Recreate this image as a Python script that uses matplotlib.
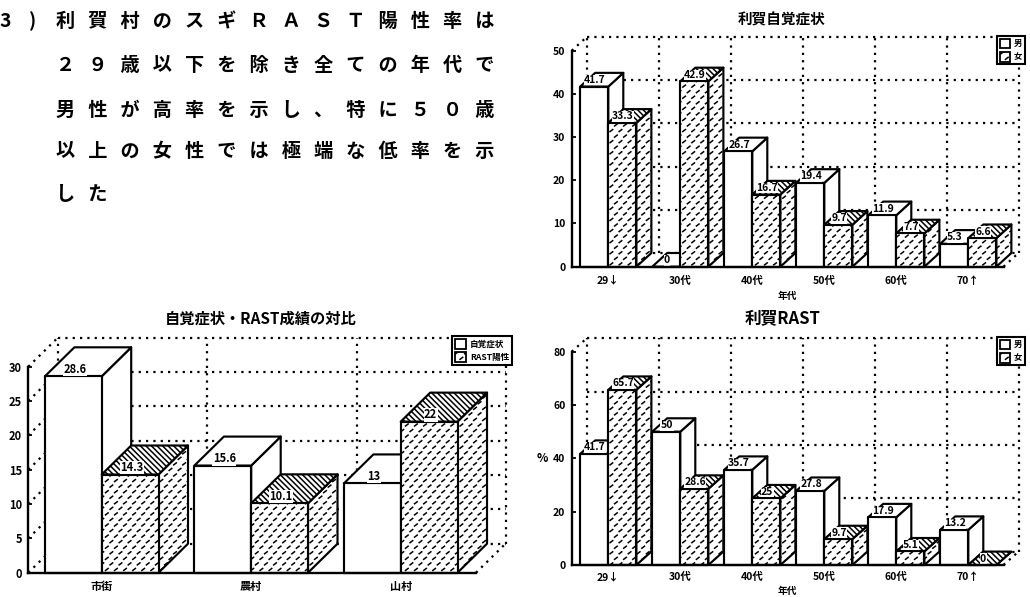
import numpy as np
import matplotlib
matplotlib.use("Agg")
import matplotlib.pyplot as plt
import matplotlib.hatch as mhatch
from matplotlib.patches import Polygon, Patch
from matplotlib.path import Path

# Data -------------------------------------------------------------------
age_groups = ["29↓", "30代", "40代", "50代", "60代", "70↑"]
symptom_male = [41.7, 0, 26.7, 19.4, 11.9, 5.3]
symptom_female = [33.3, 42.9, 16.7, 9.7, 7.7, 6.6]
rast_male = [41.7, 50, 35.7, 27.8, 17.9, 13.2]
rast_female = [65.7, 28.6, 25, 9.7, 5.1, 0]
areas = ["市街", "農村", "山村"]
area_symptom = [28.6, 15.6, 13]
area_rast = [14.3, 10.1, 22]
item_number = "3    )"
body_lines = ["利賀村のスギＲＡＳＴ陽性率は",
              "２９歳以下を除き全ての年代で",
              "男性が高率を示し、特に５０歳",
              "以上の女性では極端な低率を示",
              "した"]

CJK = ["Noto Sans CJK JP", "DejaVu Sans"]
plt.rcParams["font.family"] = CJK
plt.rcParams["font.weight"] = "bold"
plt.rcParams["hatch.linewidth"] = 1.1
W, H = 1030, 597
LW = 1.55
DOTS = (0, (1, 2.3))


class DashLattice(mhatch.HatchPatternBase):
    """Staggered lattice of short rising dashes, selected with '+'."""
    cols, rows = 11, 18

    def __init__(self, hatch, density):
        self.active = "+" in hatch
        self.num_vertices = self.cols * self.rows * 2 if self.active else 0

    def set_vertices_and_codes(self, vertices, codes):
        k = 0
        for r in range(self.rows):
            for c in range(self.cols):
                cx = (c + 0.5 * (r % 2) + 0.25) / self.cols
                cy = (r + 0.5) / self.rows
                vertices[k] = (cx - 0.013, cy - 0.010)
                vertices[k + 1] = (cx + 0.013, cy + 0.010)
                codes[k], codes[k + 1] = Path.MOVETO, Path.LINETO
                k += 2


mhatch._hatch_types[:] = [DashLattice, mhatch.SouthEastHatch]
WEAVE, STRIPES = "+", "\\" * 6

fig = plt.figure(figsize=(W / 100, H / 100), dpi=100, facecolor="white")


def px_axes(left, right, top, bottom):
    return fig.add_axes([left / W, 1 - bottom / H, (right - left) / W, (bottom - top) / H])


def draw_chart(box, zero_px, pitch, labels, front, rear, ymax, ystep, depth, bar_w,
               title, title_xy, title_fs, val_fs, label_gap, tick_fs, xpad, left_diagonals):
    left, right, top, bottom = box
    ax = px_axes(left, right, top, bottom)
    xmin = (left - zero_px) / pitch
    xmax = (right - zero_px) / pitch
    ax.set_xlim(xmin, xmax)
    ax.set_ylim(0, ymax)
    ax.set_facecolor("none")
    ux = depth[0] / pitch
    uy = depth[1] * ymax / (bottom - top)
    dot = dict(color="black", lw=1.6, ls=DOTS, clip_on=False, zorder=1)

    # back wall and floor
    walls = xmin + np.arange(len(labels) + 1)
    levels = np.arange(0, ymax + ystep, ystep)
    for wx in walls:
        ax.plot([wx + ux, wx + ux], [uy, ymax + uy], **dot)
    for lv in levels:
        ax.plot([xmin + ux, xmax + ux], [lv + uy, lv + uy], **dot)
    ax.plot([xmax, xmax + ux], [0, uy], **dot)
    for lv in (levels if left_diagonals else [ymax]):
        ax.plot([xmin, xmin + ux], [lv, lv + uy], **dot)

    # bars: each series gets a front face, a top and a side
    z = 2
    for i in range(len(labels)):
        for x0, val, pat in ((i - bar_w, front[i], None), (i, rear[i], WEAVE)):
            x1 = x0 + bar_w
            style = dict(edgecolor="black", lw=LW, clip_on=False, joinstyle="round")
            ax.add_patch(Polygon([(x1, 0), (x1 + ux, uy), (x1 + ux, val + uy), (x1, val)],
                                 facecolor="white", hatch=pat, zorder=z, **style))
            ax.add_patch(Polygon([(x0, val), (x1, val), (x1 + ux, val + uy), (x0 + ux, val + uy)],
                                 facecolor="white", hatch=STRIPES if pat else None, zorder=z, **style))
            ax.bar(x0, val, bar_w, align="edge", facecolor="white", hatch=pat, zorder=z, **style)
            ax.text(x0 + bar_w / 2 + ux * 0.05, val + label_gap, f"{val:g}", ha="center", va="center",
                    fontsize=val_fs, zorder=z + 0.5, family=CJK,
                    bbox=dict(facecolor="white", edgecolor="none", pad=0.2))
            z += 1

    for side in ("top", "right"):
        ax.spines[side].set_visible(False)
    for side in ("left", "bottom"):
        ax.spines[side].set_linewidth(1.7)
        ax.spines[side].set_zorder(z + 1)
    ax.set_yticks(levels)
    ax.tick_params(axis="y", direction="in", length=3, width=1.3, pad=4.5, labelsize=tick_fs)
    ax.set_xticks(range(len(labels)), labels)
    ax.tick_params(axis="x", length=0, pad=xpad, labelsize=tick_fs)
    fig.text(title_xy[0] / W, 1 - title_xy[1] / H, title, ha="center", va="center", fontsize=title_fs)
    return ax


def add_legend(ax, names, corner, fs):
    handles = [Patch(facecolor="white", edgecolor="black", lw=1.3, label=names[0]),
               Patch(facecolor="white", edgecolor="black", lw=1.3, hatch=WEAVE, label=names[1])]
    lg = ax.legend(handles=handles, loc="upper right", bbox_to_anchor=(corner[0] / W, 1 - corner[1] / H),
                   bbox_transform=fig.transFigure, fontsize=fs, frameon=True, fancybox=False,
                   framealpha=1, edgecolor="black", borderaxespad=0, borderpad=0.3,
                   handlelength=1.25, handleheight=1.4, handletextpad=0.5, labelspacing=0.45)
    lg.get_frame().set_linewidth(1.5)
    lg.set_zorder(100)


# Upper right: subjective symptoms by age
ax1 = draw_chart((571.7, 1003.5, 50.7, 266.7), 608.3, 72, age_groups, symptom_male, symptom_female,
                 50, 10, (15, 13.7), 0.39, "利賀自覚症状", (782, 19), 10.5, 7.5, 1.5, 7.5, 6.5, False)
ax1.set_xlabel("年代", fontsize=7, fontweight="bold", labelpad=3.5)
add_legend(ax1, ["男", "女"], (1025, 36), 6)

# Lower right: RAST positives by age
ax2 = draw_chart((571.7, 1003.5, 351.7, 565), 608.3, 72, age_groups, rast_male, rast_female,
                 80, 20, (15, 13.4), 0.39, "利賀RAST", (782.5, 319), 12, 7.5, 2.4, 7.5, 5, False)
ax2.set_xlabel("年代", fontsize=7, fontweight="bold", labelpad=3)
ax2.set_ylabel("%", rotation=0, fontsize=8.5, fontweight="bold", ha="center", va="center")
ax2.yaxis.set_label_coords(-0.067, 0.5)
add_legend(ax2, ["男", "女"], (1025, 337), 6)

# Lower left: symptoms against RAST by area
ax3 = draw_chart((28.3, 476, 366.7, 572.7), 101.7, 149.5, areas, area_symptom, area_rast,
                 30, 5, (29.5, 29), 0.38, "自覚症状・RAST成績の対比", (261, 319), 11, 8, 1.0, 8, 5, True)
add_legend(ax3, ["自覚症状", "RAST陽性"], (512, 336), 6.2)

# Running text above the lower-left chart
line_y = [21.7, 65, 110, 151.7, 195]
fig.text(0.5 / W, 1 - line_y[0] / H, item_number, ha="left", va="center", fontsize=13.8, family=CJK)
for text, ty in zip(body_lines, line_y):
    fig.text(55.5 / W, 1 - ty / H, "   ".join(text), ha="left", va="center", fontsize=13.8,
             fontweight="bold", family=CJK)

fig.savefig("out.png", dpi=100, facecolor="white")
